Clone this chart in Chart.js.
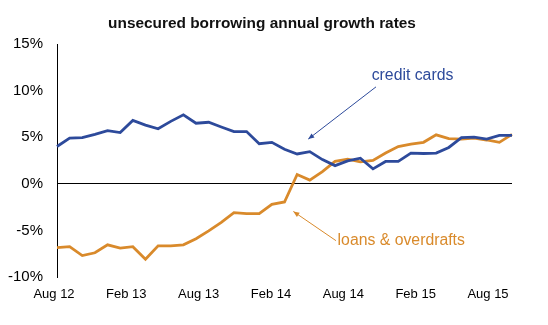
<!DOCTYPE html>
<html>
<head>
  <title>Unsecured borrowing annual growth rates</title>
  <meta charset="UTF-8">
  <script src="https://cdn.jsdelivr.net/npm/chart.js"></script>
  <style>
    html, body { margin: 0; padding: 0; background: #fff; }
    #wrap { width: 548px; height: 325px; }
  </style>
</head>
<body>
  <div id="wrap"><canvas id="growthChart" width="548" height="325"></canvas></div>

  <script>
    // monthly, Aug 12 .. Aug 15
    const months = [
      'Aug 12','Sep 12','Oct 12','Nov 12','Dec 12','Jan 13','Feb 13','Mar 13','Apr 13','May 13','Jun 13','Jul 13',
      'Aug 13','Sep 13','Oct 13','Nov 13','Dec 13','Jan 14','Feb 14','Mar 14','Apr 14','May 14','Jun 14','Jul 14',
      'Aug 14','Sep 14','Oct 14','Nov 14','Dec 14','Jan 15','Feb 15','Mar 15','Apr 15','May 15','Jun 15','Jul 15',
      'Aug 15'
    ];
    const creditCards = [4.0, 4.9, 4.95, 5.3, 5.7, 5.5, 6.8, 6.3, 5.9, 6.7, 7.4, 6.5, 6.6, 6.1, 5.6, 5.6, 4.3, 4.45,
                         3.7, 3.2, 3.45, 2.6, 1.95, 2.45, 2.75, 1.6, 2.4, 2.4, 3.3, 3.25, 3.3, 3.9, 4.95, 5.0, 4.8, 5.2, 5.2];
    const loansOverdrafts = [-6.85, -6.75, -7.7, -7.4, -6.55, -6.9, -6.75, -8.1, -6.65, -6.65, -6.55, -5.9, -5.05, -4.15,
                             -3.1, -3.2, -3.2, -2.2, -1.95, 1.0, 0.4, 1.3, 2.4, 2.65, 2.35, 2.5, 3.3, 4.0, 4.25, 4.45,
                             5.25, 4.85, 4.8, 4.9, 4.7, 4.45, 5.3];
    const tickLabels = ['Aug 12', 'Feb 13', 'Aug 13', 'Feb 14', 'Aug 14', 'Feb 15', 'Aug 15'];
    const yTicks = [-10, -5, 0, 5, 10, 15];

    const BLUE = '#2d4a9b';
    const ORANGE = '#d98a2b';
    const FONT = "'Liberation Sans', Arial, sans-serif";

    // labels in data units: [month index, percent]
    const notes = [
      { text: 'credit cards', color: BLUE, at: [28.13, 11.6], align: 'center', from: [25.24, 10.4], to: [19.88, 4.8] },
      { text: 'loans & overdrafts', color: ORANGE, at: [22.2, -6.1], align: 'left', from: [22.07, -6.1], to: [18.7, -2.97] }
    ];

    const notesPlugin = {
      id: 'notes',
      afterDraw(chart) {
        const c = chart.ctx;
        const xs = chart.scales.x, ys = chart.scales.y;
        c.save();
        // title
        c.fillStyle = '#111';
        c.font = 'bold 15.4px ' + FONT;
        c.textAlign = 'center';
        c.textBaseline = 'alphabetic';
        c.fillText('unsecured borrowing annual growth rates', 262, 28);

        notes.forEach(n => {
          const x1 = xs.getPixelForValue(n.from[0]), y1 = ys.getPixelForValue(n.from[1]);
          const x2 = xs.getPixelForValue(n.to[0]), y2 = ys.getPixelForValue(n.to[1]);
          c.strokeStyle = n.color;
          c.fillStyle = n.color;
          c.lineWidth = 1;
          c.beginPath();
          c.moveTo(x1, y1);
          c.lineTo(x2, y2);
          c.stroke();
          const a = Math.atan2(y2 - y1, x2 - x1);
          c.beginPath();
          c.moveTo(x2, y2);
          c.lineTo(x2 - 6 * Math.cos(a) + 2.5 * Math.sin(a), y2 - 6 * Math.sin(a) - 2.5 * Math.cos(a));
          c.lineTo(x2 - 6 * Math.cos(a) - 2.5 * Math.sin(a), y2 - 6 * Math.sin(a) + 2.5 * Math.cos(a));
          c.closePath();
          c.fill();

          c.font = '15.8px ' + FONT;
          c.textAlign = n.align;
          c.textBaseline = 'middle';
          c.fillText(n.text, xs.getPixelForValue(n.at[0]), ys.getPixelForValue(n.at[1]));
        });
        c.restore();
      }
    };

    const ctx = document.getElementById('growthChart').getContext('2d');
    const chart = new Chart(ctx, {
      type: 'line',
      data: {
        labels: months,
        datasets: [{
          label: 'credit cards',
          data: creditCards,
          borderColor: BLUE,
          borderWidth: 2.8,
          pointRadius: 0,
          tension: 0,
          fill: false
        }, {
          label: 'loans & overdrafts',
          data: loansOverdrafts,
          borderColor: ORANGE,
          borderWidth: 2.8,
          pointRadius: 0,
          tension: 0,
          fill: false
        }]
      },
      options: {
        responsive: false,
        animation: false,
        layout: { padding: { top: 44, right: 36, bottom: 0, left: 0 } },
        plugins: {
          legend: { display: false },
          title: { display: false },
          tooltip: { enabled: false }
        },
        scales: {
          x: {
            type: 'category',
            offset: false,
            display: false
          },
          xl: {
            type: 'linear',
            position: 'bottom',
            min: 0.0415,
            max: 6.332,
            afterBuildTicks: axis => { axis.ticks = tickLabels.map((t, i) => ({ value: i })); },
            afterFit: axis => { axis.height = 48; },
            grid: { display: false, drawTicks: false },
            border: { display: false },
            ticks: {
              autoSkip: false,
              maxRotation: 0,
              padding: 10,
              color: '#000',
              font: { family: FONT, size: 13 },
              callback: v => tickLabels[v]
            }
          },
          y: {
            min: -10,
            max: 15,
            afterBuildTicks: axis => { axis.ticks = yTicks.map(v => ({ value: v })); },
            afterFit: axis => { axis.width = 57; },
            border: { display: true, color: '#000', width: 1 },
            grid: {
              drawTicks: false,
              color: c => c.tick && c.tick.value === 0 ? '#000' : 'rgba(0,0,0,0)',
              lineWidth: 1
            },
            ticks: {
              padding: 14,
              color: '#000',
              font: { family: FONT, size: 15 },
              callback: v => v + '%'
            }
          }
        }
      },
      plugins: [notesPlugin]
    });
  </script>
</body>
</html>
